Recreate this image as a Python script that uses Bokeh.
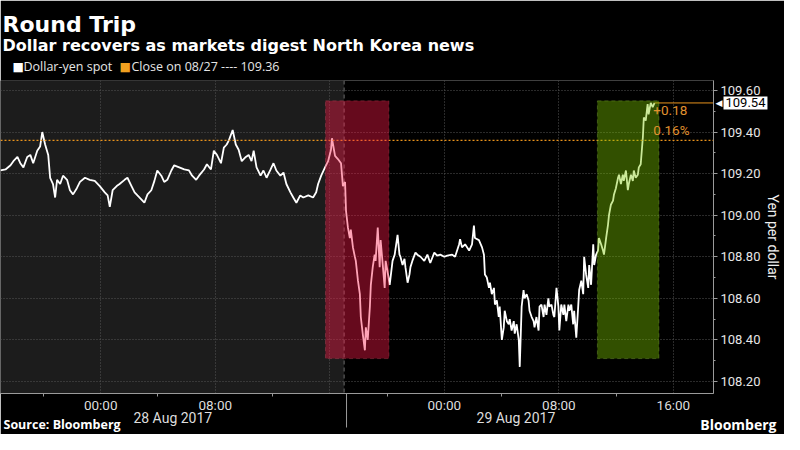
from bokeh.plotting import figure
from bokeh.models import (Range1d, FixedTicker, NumeralTickFormatter, BoxAnnotation,
                          Span, Label, Arrow, GridBox)
from bokeh.embed import file_html
from bokeh.resources import INLINE

# ---------------- data ----------------
# minutes since 27 Aug 2017 17:00 (start of the 28 Aug session)
minutes = [
    0, 21, 42, 54, 71, 83, 96, 112, 125, 137, 154, 166, 175, 187, 200, 208, 220, 229, 237, 250,
    262, 279, 291, 304, 320, 333, 354, 374, 395, 416, 437, 449, 458, 470,
    487, 499, 520, 532, 549, 562, 574, 591, 603, 616, 632, 645, 657, 674, 686, 699,
    716, 728, 749, 770, 790, 803, 820, 832, 853, 865, 882, 894, 907, 924, 936, 948,
    957, 973, 986, 998, 1011, 1028, 1040, 1052, 1061, 1073, 1090, 1102, 1115, 1132, 1144, 1156,
    1173, 1186, 1198, 1215, 1227, 1240, 1256, 1269, 1290, 1310, 1323, 1331, 1344, 1360, 1373,
    1385, 1389, 1402, 1414, 1427,
    1435, 1444, 1448, 1456, 1464, 1468, 1477, 1485, 1489, 1498, 1506, 1510, 1518, 1527, 1531,
    1539, 1548, 1552, 1560, 1568, 1572, 1581, 1589, 1593, 1602, 1610, 1614, 1622, 1631, 1643,
    1652, 1664, 1672, 1676, 1685, 1693, 1697, 1706, 1714, 1718, 1726, 1739, 1747, 1760, 1776,
    1789, 1801, 1818, 1830, 1843, 1860, 1872, 1893,
    1905, 1922, 1926, 1934, 1947, 1964, 1976, 1984, 1988, 2005, 2018, 2026, 2030, 2038, 2047,
    2051, 2059, 2068, 2072, 2080, 2088, 2092, 2101, 2109, 2113, 2122, 2130, 2134, 2142, 2151,
    2155, 2163, 2172, 2176, 2184, 2192, 2196, 2205, 2213, 2217, 2226, 2234, 2238, 2246, 2255,
    2259, 2267, 2276, 2280, 2288, 2296, 2300, 2309, 2317, 2321, 2330, 2338, 2342, 2350, 2359,
    2363, 2371, 2380, 2384, 2392, 2400, 2404, 2413,
    2421, 2425, 2434, 2442, 2446, 2454, 2463, 2467, 2475, 2484, 2488, 2496, 2504, 2508, 2517,
    2525, 2529, 2538, 2546, 2550, 2558, 2567, 2571, 2579, 2588, 2592, 2600, 2608, 2612, 2621,
    2629, 2633, 2642, 2650, 2654, 2662, 2671, 2675, 2683, 2692, 2696, 2704, 2712, 2716, 2725,
    2733, 2741,
]
spot = [
    109.215, 109.22, 109.24, 109.26, 109.28, 109.25, 109.23, 109.28, 109.29, 109.25,
    109.31, 109.33, 109.40, 109.34, 109.29, 109.18, 109.15, 109.085, 109.17, 109.15,
    109.19, 109.17, 109.12, 109.10, 109.13, 109.16, 109.18, 109.17, 109.165, 109.14,
    109.11, 109.095, 109.04, 109.12,
    109.14, 109.15, 109.17, 109.18, 109.14, 109.11, 109.095, 109.075, 109.06, 109.10,
    109.12, 109.165, 109.215, 109.19, 109.16, 109.17, 109.215, 109.24, 109.23, 109.22,
    109.215, 109.19, 109.17, 109.19, 109.22, 109.245, 109.22, 109.31, 109.29, 109.25,
    109.325, 109.34,
    109.36, 109.41, 109.34, 109.315, 109.26, 109.28, 109.29, 109.26, 109.31, 109.23,
    109.19, 109.215, 109.18, 109.22, 109.25, 109.215, 109.19, 109.205, 109.15, 109.11,
    109.085, 109.06, 109.095, 109.085, 109.095, 109.085, 109.11, 109.15, 109.19, 109.23,
    109.26, 109.315, 109.37, 109.285, 109.27, 109.25,
    109.14, 109.16, 109.02, 108.94, 108.89, 108.93, 108.845, 108.80, 108.78, 108.685,
    108.62, 108.51, 108.43, 108.35, 108.46, 108.40, 108.56, 108.665, 108.75, 108.81,
    108.78, 108.94, 108.75, 108.88, 108.76, 108.65, 108.78, 108.73, 108.665, 108.78,
    108.81, 108.905, 108.81, 108.80, 108.76, 108.79, 108.75, 108.675, 108.715, 108.75,
    108.78, 108.82, 108.81, 108.80, 108.78, 108.81, 108.77, 108.82, 108.805, 108.81,
    108.80, 108.805, 108.81,
    108.80, 108.86, 108.885, 108.845, 108.86, 108.83, 108.86, 108.95, 108.89, 108.88,
    108.845, 108.81, 108.715, 108.70, 108.65, 108.675, 108.62, 108.65, 108.57, 108.59,
    108.51, 108.56, 108.40, 108.46, 108.54, 108.49, 108.475, 108.50, 108.445, 108.49,
    108.43, 108.475, 108.40, 108.27, 108.56, 108.64, 108.60, 108.62, 108.59, 108.54,
    108.51, 108.49, 108.46, 108.51, 108.445, 108.56, 108.57, 108.51, 108.57, 108.52,
    108.60, 108.56, 108.57, 108.52, 108.51, 108.65, 108.56, 108.445, 108.57, 108.52,
    108.57, 108.49, 108.57, 108.54, 108.57, 108.475, 108.54, 108.41,
    108.56, 108.64, 108.685, 108.62, 108.80, 108.715, 108.65, 108.76, 108.665, 108.86,
    108.76, 108.81, 108.83, 108.89, 108.86, 108.83, 108.81, 108.89, 108.955, 109.00,
    109.05, 109.07, 109.10, 109.13, 109.18, 109.195, 109.15, 109.195, 109.165, 109.215,
    109.12, 109.15, 109.195, 109.165, 109.215, 109.18, 109.195, 109.23, 109.245, 109.375,
    109.47, 109.455, 109.535, 109.485, 109.54, 109.52, 109.54,
]

close_0827 = 109.36
last_price = 109.54
change_abs = "+0.18"
change_pct = "0.16%"

y_ticks = [108.20, 108.40, 108.60, 108.80, 109.00, 109.20, 109.40, 109.60]
x_tick_hours = [0, 8, 16, 24, 32, 40]          # hours after 28 Aug 00:00
x_tick_labels = ["00:00", "08:00", "", "00:00", "08:00", "16:00"]
x_minor_hours = [-4, 4, 12, 20, 28, 36]
date_labels = ["28 Aug 2017", "29 Aug 2017"]
date_label_hours = [4.95, 28.75]
session_break_hour = 17

red_window = (15.70, 20.13)     # hours after 28 Aug 00:00
green_window = (34.69, 38.99)
window_low, window_high = 108.31, 109.55

hours = [m / 60.0 - 7.0 for m in minutes]

# ---------------- geometry ----------------
W, H = 784, 434
MB_TOP, MB_BOTTOM, MB_RIGHT = 80, 41, 66
FRAME_W = W - MB_RIGHT
FRAME_H = H - MB_TOP - MB_BOTTOM
X0, X1 = -7.0, 42.8
Y0, Y1 = 108.142, 109.648


def px(h):   # hour -> canvas x
    return (h - X0) * FRAME_W / (X1 - X0)


def py(v):   # price -> canvas y (from top)
    return MB_TOP + (Y1 - v) * FRAME_H / (Y1 - Y0)


# ---------------- main chart ----------------
p = figure(width=W, height=H, output_backend="svg", toolbar_location=None,
           x_range=Range1d(X0, X1), y_range=Range1d(Y0, Y1),
           y_axis_location="right",
           min_border_left=0, min_border_right=MB_RIGHT,
           min_border_top=MB_TOP, min_border_bottom=MB_BOTTOM,
           background_fill_color="#000000", border_fill_color="#000000",
           outline_line_color=None)

prev_session = BoxAnnotation(left=X0, right=session_break_hour, fill_color="#1c1c1c",
                             fill_alpha=1.0, line_color=None, level="underlay")
sep = Span(location=session_break_hour, dimension="height", line_color="#6a6a6a",
           line_dash="4 3", line_width=1, level="underlay")
p.center = [prev_session, sep] + list(p.center)

p.ygrid.ticker = FixedTicker(ticks=y_ticks)
p.xgrid.ticker = FixedTicker(ticks=x_tick_hours)
for g in (p.xgrid[0], p.ygrid[0]):
    g.grid_line_color = "#555555"
    g.grid_line_dash = "1 2"
    g.grid_line_width = 1

p.add_layout(Span(location=close_0827, dimension="width", line_color="#e8921c",
                  line_dash="2 2", line_width=1.2))

p.line(hours, spot, line_color="#ffffff", line_width=1.8)

p.segment(x0=[hours[-1]], y0=[last_price], x1=[X1], y1=[last_price],
          line_color="#e8921c", line_width=1)

p.add_layout(BoxAnnotation(left=red_window[0], right=red_window[1], bottom=window_low,
                           top=window_high, fill_color="#ff1a48", fill_alpha=0.4,
                           line_color="#d9536b", line_dash="4 3", line_width=1))
p.add_layout(BoxAnnotation(left=green_window[0], right=green_window[1], bottom=window_low,
                           top=window_high, fill_color="#7dc800", fill_alpha=0.4,
                           line_color="#9ccc4a", line_dash="4 3", line_width=1))

p.add_layout(Label(x=38.6, y=109.503, text=change_abs, text_font="Roboto",
                   text_font_size="13.5px", text_color="#e0922f", text_baseline="middle"))
p.add_layout(Label(x=38.6, y=109.412, text=change_pct, text_font="Roboto",
                   text_font_size="13.5px", text_color="#e0922f", text_baseline="middle"))

xa = p.xaxis[0]
xa.ticker = FixedTicker(ticks=x_tick_hours, minor_ticks=x_minor_hours)
xa.major_label_overrides = {h: lab for h, lab in zip(x_tick_hours, x_tick_labels)}
xa.axis_line_color = "#9a9a9a"
xa.major_tick_line_color = "#9a9a9a"
xa.minor_tick_line_color = "#9a9a9a"
xa.major_tick_out = 0
xa.major_tick_in = 0
xa.minor_tick_out = 3
xa.minor_tick_in = 0
xa.major_label_standoff = 0
xa.major_label_text_font = "Roboto"
xa.major_label_text_font_size = "13.5px"
xa.major_label_text_color = "#dddddd"

ya = p.yaxis[0]
ya.ticker = FixedTicker(ticks=y_ticks, minor_ticks=[t + 0.1 for t in y_ticks[:-1]])
ya.formatter = NumeralTickFormatter(format="0.00")
ya.axis_line_color = "#9a9a9a"
ya.major_tick_line_color = "#9a9a9a"
ya.minor_tick_line_color = "#9a9a9a"
ya.major_tick_out = 4
ya.major_tick_in = 0
ya.minor_tick_out = 2
ya.minor_tick_in = 0
ya.major_label_standoff = 3
ya.major_label_text_font = "Roboto"
ya.major_label_text_font_size = "13px"
ya.major_label_text_color = "#e6e6e6"
ya.axis_label = "Yen per dollar"
ya.axis_label_standoff = 2
ya.axis_label_text_font = "Roboto"
ya.axis_label_text_font_size = "14px"
ya.axis_label_text_font_style = "normal"
ya.axis_label_text_color = "#f0f0f0"

# ---------------- transparent text overlay (canvas pixel coordinates) ----------------
ov = figure(width=W, height=H, output_backend="svg", toolbar_location=None,
            x_range=Range1d(0, W), y_range=Range1d(H, 0),
            x_axis_location=None, y_axis_location=None,
            min_border_left=0, min_border_right=0, min_border_top=0, min_border_bottom=0,
            outline_line_color=None, background_fill_color=None, border_fill_color=None)
for g in ov.grid:
    g.visible = False
for f in (p, ov):
    if "frame_align" in f.properties():
        f.frame_align = False


def lab(x, y, text, size, color="#ffffff", font="Open Sans", style="normal",
        align="left", baseline="middle", **kw):
    ov.add_layout(Label(x=x, y=y, text=text, text_font=font, text_font_size=size,
                        text_font_style=style, text_color=color, text_align=align,
                        text_baseline=baseline, **kw))


# header
lab(2, 24, "Round Trip", "22px", font="DejaVu Sans", style="bold", baseline="alphabetic")
lab(2, 45, "Dollar recovers as markets digest North Korea news", "16px",
    font="DejaVu Sans", style="bold", baseline="alphabetic")

# legend
lab(12, 66, "\u25a0", "12px", font="DejaVu Sans")
lab(23, 66, "Dollar-yen spot", "12.5px", color="#e6e6e6")
lab(119, 66, "\u25a0", "12px", color="#f0a020", font="DejaVu Sans")
lab(131, 66, "Close on 08/27 ---- %.2f" % close_0827, "12.5px", color="#e6e6e6")

# date row and session separator tick
for h, t in zip(date_label_hours, date_labels):
    lab(px(h), 417, t, "14px", color="#dddddd", font="Roboto", align="center")
ov.add_layout(Arrow(end=None, x_start=px(session_break_hour), y_start=py(Y0),
                    x_end=px(session_break_hour), y_end=427,
                    line_color="#9a9a9a", line_width=1))

# last price tag on the axis
tag_y = py(last_price)
lab(FRAME_W - 3, tag_y, "\u25c0", "9px", font="DejaVu Sans")
lab(FRAME_W + 5, tag_y, "%.2f" % last_price, "13px", color="#000000", font="Roboto",
    background_fill_color="#ffffff", padding=2)

# footer
lab(3, 424, "Source: Bloomberg", "12.5px", style="bold")
lab(776, 424, "Bloomberg", "14px", style="bold", align="right")

layout = GridBox(children=[(p, 0, 0), (ov, 0, 0)])
open("out.html", "w").write(file_html(layout, INLINE))
